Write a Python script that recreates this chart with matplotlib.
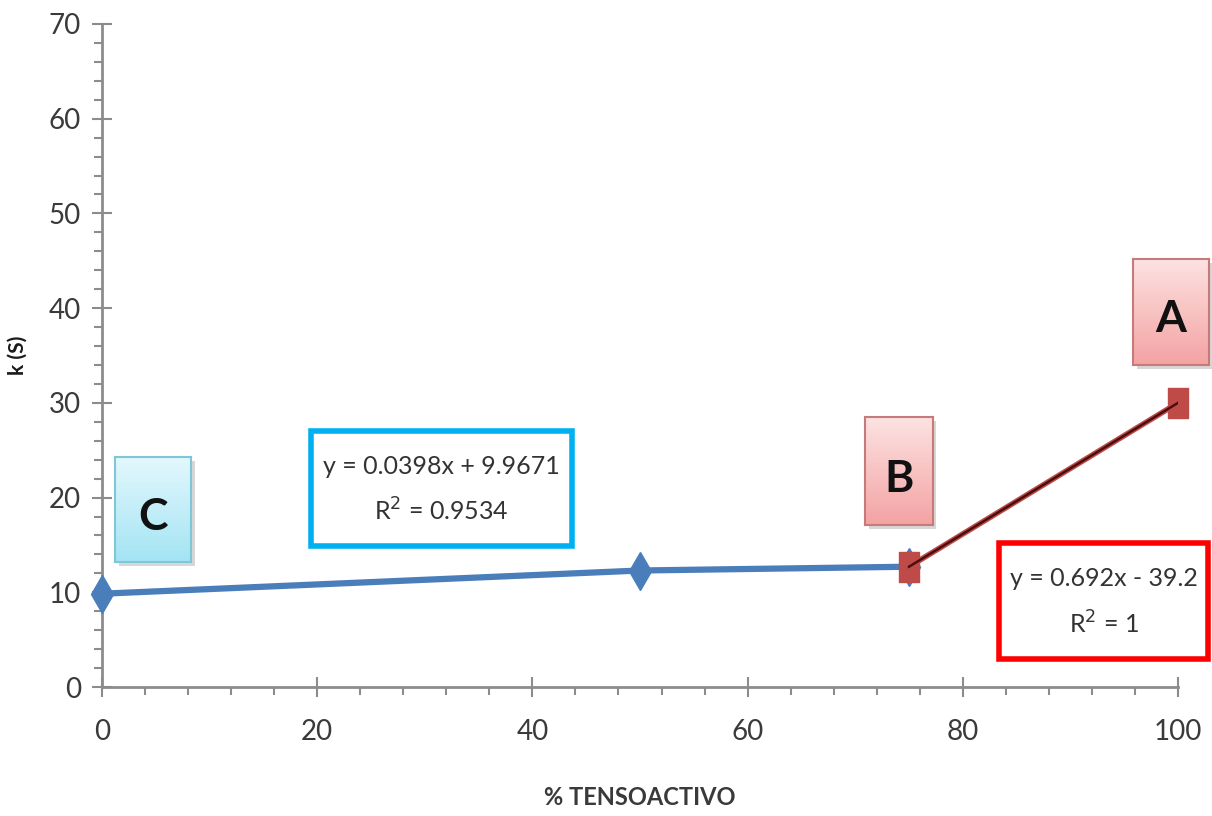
import numpy as np
import matplotlib
matplotlib.use("Agg")
import matplotlib.pyplot as plt
from matplotlib.patches import Rectangle
from matplotlib.path import Path
from matplotlib.ticker import MultipleLocator

plt.rcParams['font.family'] = ['Lato', 'DejaVu Sans']

# Conductivity vs. surfactant content
x_blue = [0, 50, 75]
k_blue = [9.85, 12.3, 12.7]
x_red = [75, 100]
k_red = [12.7, 30.0]

eq_blue = ["y = 0.0398x + 9.9671", "R$^{2}$ = 0.9534"]
eq_red = ["y = 0.692x - 39.2", "R$^{2}$ = 1"]

x_ticks = [0, 20, 40, 60, 80, 100]
y_ticks = [0, 10, 20, 30, 40, 50, 60, 70]
x_label = "% TENSOACTIVO"
y_label = "k (S)"

W, H = 1212, 816
fig = plt.figure(figsize=(W / 100, H / 100), dpi=100)
ax = fig.add_axes([102 / W, 1 - 687 / H, (1178 - 102) / W, (687 - 24) / H])
ax.set_xlim(0, 100)
ax.set_ylim(0, 70)

gray = "#8c8c8c"
for s in ("top", "right"):
    ax.spines[s].set_visible(False)
for s in ("left", "bottom"):
    ax.spines[s].set_color(gray)
    ax.spines[s].set_linewidth(2)

ax.set_xticks(x_ticks)
ax.set_yticks(y_ticks)
ax.xaxis.set_minor_locator(MultipleLocator(4))
ax.yaxis.set_minor_locator(MultipleLocator(2))
ax.tick_params(which="major", direction="inout", length=14, width=1.5, color=gray,
               labelsize=20, labelcolor="#3a3a3a")
ax.tick_params(which="minor", direction="out", length=6, width=1.5, color=gray)
ax.tick_params(axis="x", which="major", pad=16)
ax.tick_params(axis="y", which="major", pad=8)

ax.set_xlabel(x_label, fontsize=17, fontweight="bold", color="#3a3a3a")
ax.xaxis.set_label_coords(0.5, -(786 - 687) / 663)
ax.set_ylabel(y_label, fontsize=15, fontweight="bold", color="#1a1a1a")
ax.yaxis.set_label_coords(-(102 - 28) / 1076, 0.5)

# tall rectangle marker for the red series
rect_marker = Path([(-0.33, -0.5), (0.33, -0.5), (0.33, 0.5), (-0.33, 0.5), (-0.33, -0.5)],
                   [Path.MOVETO, Path.LINETO, Path.LINETO, Path.LINETO, Path.CLOSEPOLY])

# data series
ax.plot(x_blue, k_blue, color="#4a7ebb", lw=4.5, marker="d", markersize=19,
        markerfacecolor="#4a7ebb", markeredgecolor="#4a7ebb", zorder=3, clip_on=False)
ax.plot(x_red, k_red, color="#be4b48", lw=4.0, marker=rect_marker, markersize=21,
        markerfacecolor="#be4b48", markeredgecolor="#be4b48", zorder=4, clip_on=False)
ax.plot(x_red, k_red, color="#4a0e0e", lw=1.8, zorder=5)


def label_box(x0, y0, x1, y1, letter, c_top, c_bot, edge):
    # soft drop shadow
    ax.add_patch(Rectangle((x0 + 0.35, y0 - 0.45), x1 - x0, y1 - y0, facecolor="#b0b0b0",
                           edgecolor="none", alpha=0.5, zorder=6, clip_on=False))
    ins = ax.inset_axes([x0, y0, x1 - x0, y1 - y0], transform=ax.transData, zorder=7)
    grad = np.linspace(0, 1, 64)[:, None]
    top = np.array(matplotlib.colors.to_rgb(c_top))
    bot = np.array(matplotlib.colors.to_rgb(c_bot))
    img = top[None, None, :] * (1 - grad[..., None]) + bot[None, None, :] * grad[..., None]
    ins.imshow(img, aspect="auto", extent=[0, 1, 0, 1])
    ins.set_xticks([])
    ins.set_yticks([])
    for sp in ins.spines.values():
        sp.set_color(edge)
        sp.set_linewidth(1.5)
    ins.text(0.5, 0.43, letter, ha="center", va="center", fontsize=32, fontweight="bold",
             color="#111111", transform=ins.transAxes)


label_box(1.2, 13.2, 8.3, 24.3, "C", "#e3f8fd", "#a4e4f4", "#7fc6d6")
label_box(70.9, 17.1, 77.2, 28.5, "B", "#fde2e2", "#f4a3a3", "#c77a7a")
label_box(95.8, 34.0, 102.9, 45.2, "A", "#fde2e2", "#f4a3a3", "#c77a7a")


def eq_box(x0, y0, x1, y1, lines, edge):
    ax.add_patch(Rectangle((x0, y0), x1 - x0, y1 - y0, facecolor="white", edgecolor=edge,
                           linewidth=4, zorder=6, clip_on=False))
    xc = (x0 + x1) / 2
    h = y1 - y0
    ax.text(xc, y0 + h * 0.69, lines[0], ha="center", va="center", fontsize=18,
            color="#333333", zorder=7, clip_on=False)
    ax.text(xc, y0 + h * 0.30, lines[1], ha="center", va="center", fontsize=18,
            color="#333333", zorder=7, clip_on=False)


eq_box(19.4, 14.9, 43.7, 27.0, eq_blue, "#00b0f0")
eq_box(83.4, 3.0, 102.8, 15.2, eq_red, "#ff0000")

fig.savefig("out.png", dpi=100)
